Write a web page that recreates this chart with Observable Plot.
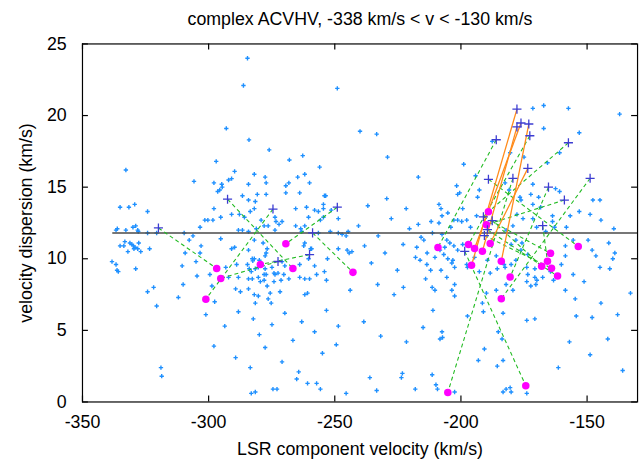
<!DOCTYPE html>
<html><head><meta charset="utf-8">
<script src="https://cdn.jsdelivr.net/npm/d3@7"></script>
<script src="https://cdn.jsdelivr.net/npm/@observablehq/plot@0.6"></script>
<style>html,body{margin:0;padding:0;background:#fff;overflow:hidden;width:642px;height:466px}</style>
</head><body><div id="chart"></div>
<script>
const titleText = "complex ACVHV, -338 km/s < v < -130 km/s";
const xLabel = "LSR component velocity (km/s)";
const yLabel = "velocity dispersion (km/s)";
const xTicks = [-350, -300, -250, -200, -150];
const yTicks = [0, 5, 10, 15, 20, 25];
const vRange = [-338, -130];
const meanDispersion = 11.8;

const westBlue = [
[-332.8,16.2],[-305.8,15.4],[-335.1,13.6],[-331.6,13.6],[-329.3,13.8],[-324.2,13.3],
[-336.7,12.0],[-336.2,12.1],[-332.8,12.0],[-330.0,12.2],[-328.9,12.3],[-328.1,12.0],[-327.9,11.9],
[-324.2,11.8],[-320.6,11.8],[-309.7,11.8],[-306.2,11.6],[-307.7,11.3],[-333.2,11.2],
[-335.1,10.9],[-333.6,10.9],[-331.2,11.1],[-330.4,11.0],[-329.8,10.9],[-329.2,10.8],[-327.7,11.1],
[-326.9,10.5],[-332.0,10.5],[-329.6,10.7],[-328.1,10.7],[-323.4,10.7],
[-338.3,9.8],[-336.7,9.6],[-336.3,9.2],[-335.8,9.1],[-328.9,9.3],[-310.5,9.5],[-309.3,10.4],
[-305.0,9.8],[-304.6,8.8],[-310.1,8.2],[-321.8,8.0],[-324.2,7.7],[-312.0,7.3],[-320.6,6.7],
[-318.9,2.4],[-318.6,1.8]
];
const centralBlue = [
[-289.7,16.1],[-281.9,15.9],[-277.6,15.7],[-297.9,15.3],[-294.8,15.2],[-294.6,15.0],[-292.1,15.5],[-290.9,15.6],[-284.2,15.2],[-277.2,15.3],
[-261.9,15.9],[-264.7,15.7],[-260.0,15.3],[-268.2,15.3],[-269.4,15.1],[-269.4,14.6],[-263.9,14.6],[-296.4,14.7],[-295.6,14.8],[-286.6,14.4],
[-280.7,14.5],[-277.2,14.5],[-254.1,14.4],[-253.6,14.4],[-284.2,14.1],[-281.5,14.0],[-297.9,13.5],[-290.9,13.1],[-287.8,13.1],[-283.5,13.3],
[-281.9,13.5],[-285.8,12.9],[-279.2,12.7],[-295.2,12.9],[-301.5,12.7],[-300.3,12.7],[-298.3,12.7],[-273.7,12.9],[-273.3,12.6],[-270.9,12.6],
[-272.1,12.4],[-278.0,12.3],[-276.4,12.3],[-303.4,12.2],[-288.2,12.0],[-286.6,12.0],[-284.2,11.9],[-281.1,12.1],[-273.7,12.0],[-265.5,13.5],
[-261.2,13.6],[-260.4,12.9],[-265.5,12.3],[-261.9,12.3],[-258.0,13.4],[-256.5,13.3],[-254.5,13.5],[-254.5,13.8],[-251.4,13.4],[-248.6,12.8],
[-263.1,11.9],[-263.5,12.1],[-256.5,11.8],[-251.8,11.9],[-248.6,11.8],[-247.1,11.7],[-245.5,11.6],[-244.7,11.9],[-255.7,12.7],[-254.5,12.9],
[-295.2,11.4],[-281.9,11.3],[-289.7,10.8],[-290.9,10.7],[-284.2,10.6],[-278.4,11.1],[-276.8,10.7],[-277.2,10.4],[-282.7,10.0],[-281.9,10.0],
[-282.5,9.85],[-279.9,9.9],[-277.6,10.2],[-303.0,10.9],[-303.4,10.4],
[-293.2,9.4],[-288.9,9.6],[-284.6,9.6],[-283.9,9.3],[-283.1,9.1],[-281.5,9.3],[-280.3,9.4],[-277.6,9.3],[-278.0,8.9],[-277.2,8.9],
[-274.9,9.4],[-274.1,9.0],[-273.7,8.9],[-272.5,9.0],[-270.9,9.8],[-269.8,9.5],[-263.9,9.6],[-262.3,10.9],[-261.9,11.1],[-259.6,10.7],
[-259.2,10.7],[-258.0,9.5],[-257.2,8.9],[-254.1,9.1],[-252.9,10.0],[-248.6,10.7],[-245.1,10.6],[-244.3,10.4],[-243.2,10.5],[-268.2,8.6],
[-284.2,8.6],[-282.7,8.6],[-279.5,8.4],[-278.0,8.5],[-276.8,8.1],[-275.6,7.6],[-280.3,8.7],[-292.1,8.7],[-288.2,8.7],[-299.5,8.9],
[-298.7,8.1],[-289.3,7.9],[-287.4,7.7],[-274.1,8.4],[-271.3,8.5],[-270.2,8.9],[-263.9,8.7],[-260.0,8.6],[-261.9,8.6],[-260.4,10.0],
[-253.3,8.5],[-243.9,7.8],[-261.9,7.5],[-260.8,7.6],[-281.9,7.5],[-280.3,7.4],[-276.4,7.2],[-284.2,7.9],[-281.5,6.9],[-275.2,6.9],
[-271.7,7.7],[-297.6,7.0]
];
const upperBlue = [
[-284.6,24.0],[-286.2,22.1],[-249.0,21.9],[-240.0,18.9],[-233.4,18.7],[-262.7,17.2],[-229.1,17.1],[-216.9,15.7],
[-293.0,19.1],[-284.0,18.3],[-276.0,17.6],[-297.0,16.8],[-268.0,16.9],[-256.0,16.4]
];
const lowBlue = [
[-301.1,6.1],[-293.6,5.3],[-288.2,6.3],[-282.3,5.8],[-279.9,4.7],[-274.9,5.4],[-269.8,6.2],[-266.6,4.3],[-263.1,5.6],[-258.0,4.9],
[-253.3,6.4],[-248.6,5.3],[-297.9,3.9],[-289.3,3.1],[-277.6,3.8],[-270.9,2.8],[-254.9,3.4],[-249.4,4.0],[-264.3,2.1],[-283.5,2.4],
[-283.1,0.6],[-281.5,0.7],[-274.5,0.9],[-272.9,0.9],[-265.1,1.6],[-260.8,1.3],[-257.2,1.3],[-255.7,0.9],[-245.5,0.6],[-236.1,1.7],
[-233.4,0.8],[-223.2,2.0],[-218.1,0.9],[-209.9,1.2],[-209.3,0.9],[-202.5,0.7],[-183.3,0.7],[-182.1,0.9],[-180.5,1.0],[-180.1,0.7],[-173.9,0.6]
];
const midBlue = [
[-240.6,12.3],[-238.2,10.9],[-235.5,9.7],[-232.8,11.6],[-230.1,10.4],[-227.6,12.8],[-225.2,9.2],[-222.9,11.0],[-220.4,12.1],[-218.0,10.1],
[-215.8,11.5],[-213.5,9.6],[-211.8,12.6],[-236.9,13.7],[-229.4,14.2],[-221.7,13.5],[-233.0,8.2],[-226.5,7.5],[-217.5,10.8],[-216.2,9.9],
[-214.7,11.3],[-213.4,10.4],[-212.0,9.2],[-211.3,11.8],[-216.9,12.4],[-214.0,8.6],[-238.5,5.6],[-231.8,4.6],
[-222.8,8.0],[-211.4,8.0],[-210.3,7.8],[-203.6,7.8],[-202.5,7.4],[-211.1,6.4],[-215.0,5.2],[-207.5,4.9],[-208.3,4.4],[-207.3,4.5],
[-221.6,4.2],[-223.6,1.7],[-211.4,1.9]
];
const eastBlue = [
[-171.5,20.5],[-167.2,20.7],[-157.4,20.5],[-137.1,20.1],[-187.6,18.2],[-153.1,18.8],[-167.2,19.1],[-180.5,17.4],[-175.0,17.1],[-160.9,17.4],
[-198.9,16.6],[-194.2,15.8],[-182.5,15.3],[-171.5,15.2],[-165.7,16.7],[-201.7,15.1],[-201.3,14.5],[-200.5,14.6],[-192.7,14.8],[-193.4,14.3],
[-207.9,13.5],[-208.7,13.8],[-180.9,14.8],[-176.6,14.3],[-176.2,14.1],[-172.3,14.5],[-169.2,14.3],[-162.5,14.9],[-160.9,14.7],[-171.5,13.8],
[-168.4,13.6],[-163.7,13.0],[-156.7,13.0],[-153.1,13.3],[-148.8,13.1],[-144.5,12.7],[-147.7,14.1],[-144.9,14.1],[-139.4,12.1],[-199.3,13.5],
[-205.2,13.2],[-202.8,12.7],[-201.3,12.7],[-197.7,12.7],[-199.7,12.6],[-193.8,13.0],[-196.2,12.2],[-204.0,12.2],[-207.5,13.0],[-208.7,12.5],
[-177.8,13.1],[-175.4,12.8],[-182.1,12.0],[-179.4,12.3],[-171.5,12.8],[-170.0,12.2],[-163.7,12.6],[-166.4,11.9],[-162.9,12.2],[-158.2,12.2],
[-158.6,10.9],[-155.5,11.3],[-149.6,11.3],[-148.0,10.6],[-141.4,11.1],[-144.9,9.4],[-139.0,10.4],[-207.5,11.7],[-205.6,11.3],[-204.4,11.1],
[-208.3,10.6],[-206.4,10.8],[-206.8,10.3],[-202.8,10.9],[-205.2,10.0],[-203.2,9.9],[-201.3,10.6],[-199.3,11.0],[-197.7,9.6],[-197.4,9.4],
[-207.9,9.2],[-202.5,8.2],[-194.6,10.1],[-192.7,9.1],[-189.5,9.9],[-186.0,10.2],[-185.6,9.3],[-182.5,9.4],[-178.2,9.9],[-176.2,10.6],
[-180.1,11.0],[-178.2,11.3],[-175.8,11.1],[-173.5,10.3],[-173.9,9.4],[-170.7,9.3],[-173.9,8.4],[-170.3,8.2],[-164.5,9.1],[-163.3,8.5],
[-155.5,8.9],[-160.2,9.6],[-158.6,10.2],
[-210.3,10.1],[-203.6,9.7],[-202.5,9.4],[-205.6,8.7],[-191.1,6.3],[-188.4,9.0],[-182.9,9.6],[-180.1,9.6],[-173.5,8.9],
[-158.6,7.8],[-154.7,7.2],[-151.2,8.4],[-154.3,6.0],[-148.0,5.9],[-146.5,10.2],[-141.0,9.3],[-139.8,10.0],
[-197.4,6.0],[-190.7,3.7],[-193.1,2.9],[-185.6,2.5],[-183.3,2.9],[-185.2,4.9],[-183.7,4.4],[-183.3,6.2],[-173.9,5.7],[-170.7,5.8],
[-179.4,7.8],[-186.0,7.8],[-189.9,7.6],[-191.5,6.9],[-170.7,8.7],[-169.9,8.5],[-167.6,8.7],[-172.3,8.1],[-182.1,8.2]
];
const edgeBlue = [
[-144.5,6.9],[-137.9,6.1],[-132.8,7.6],[-141.8,4.4],[-148.8,3.3],[-157.0,4.2],[-161.4,2.4],[-135.9,2.2]
];

const crossPts = [
[-319.9,12.15],[-292.5,14.16],[-274.5,13.47],[-272.5,9.81],[-249.0,13.60],[-258.8,11.81],[-260.0,10.29],
[-177.8,20.45],[-176.2,19.48],[-177.8,19.21],[-173.1,19.41],[-172.7,18.59],[-186.0,18.31],[-157.4,18.10],
[-173.5,16.31],[-189.1,15.55],[-179.4,15.62],[-148.8,15.62],[-165.3,15.00],[-159.0,14.10],[-191.1,12.93],
[-187.6,12.66],[-167.6,12.31],[-198.5,10.52],[-189.5,12.03],[-190.7,11.62]
];
const magentaPts = [
[-296.8,9.32],[-266.6,9.32],[-301.1,7.18],[-295.2,8.63],[-279.5,9.60],[-269.4,11.05],[-242.8,9.05],
[-209.1,10.79],[-197.0,11.00],[-194.6,10.72],[-191.5,10.52],[-188.4,11.07],[-195.8,9.55],[-184.0,9.83],
[-164.5,10.38],[-165.7,9.83],[-168.0,9.48],[-164.1,9.34],[-161.7,8.79],[-153.5,10.86],[-180.5,8.72],
[-184.0,7.21],[-205.2,0.66],[-174.3,1.14],[-189.1,13.28],[-189.9,12.38]
];
// [cross index, magenta index]
const greenLinks = [
[0,0],[1,1],[2,2],[3,3],[6,4],[4,5],[5,6],
[12,7],[13,24],[17,21],[11,8],[15,19],[18,20],[19,25],[16,22],[23,23],[20,14],[21,16],[24,18],[25,17],[22,15]
];
const orangeLinks = [[7,12],[8,9],[9,10],[10,13],[14,11]];

const blueAll = [...westBlue, ...centralBlue, ...upperBlue, ...lowBlue, ...midBlue, ...eastBlue, ...edgeBlue];

const plusSymbol = {
  draw(ctx, size) {
    const r = Math.sqrt(size / Math.PI);
    ctx.moveTo(-r, 0); ctx.lineTo(r, 0);
    ctx.moveTo(0, -r); ctx.lineTo(0, r);
  }
};

const W = 650, H = 466, mL = 83, mR = 5, mT = 44, mB = 59.5;
const plotW = W - mL - mR, plotH = H - mT - mB;
const font = "'Liberation Sans', Arial, Helvetica, sans-serif";

const linkOpts = () => ({
  x1: ([c]) => crossPts[c][0], y1: ([c]) => crossPts[c][1],
  x2: ([, m]) => magentaPts[m][0], y2: ([, m]) => magentaPts[m][1]
});

const chart = Plot.plot({
  width: W, height: H,
  marginLeft: mL, marginRight: mR, marginTop: mT, marginBottom: mB,
  x: {domain: [-350, -130]},
  y: {domain: [0, 25]},
  style: {fontFamily: font, fontSize: "18px", background: "white", color: "black", overflow: "visible"},
  marks: [
    Plot.dot(blueAll, {x: d => d[0], y: d => d[1], symbol: plusSymbol, r: 2.2, stroke: "#1e90ff", strokeWidth: 1.4, fill: "none"}),
    Plot.ruleY([{s: meanDispersion, v1: vRange[0], v2: vRange[1]}], {y: "s", x1: "v1", x2: "v2", stroke: "#4a4a4a", strokeWidth: 1.5}),
    Plot.link(greenLinks, {...linkOpts(), stroke: "#22bb22", strokeWidth: 1.1, strokeDasharray: "4,3"}),
    Plot.link(orangeLinks, {...linkOpts(), stroke: "#ff8a1a", strokeWidth: 1.3}),
    Plot.dot(magentaPts, {x: d => d[0], y: d => d[1], r: 3.8, fill: "#ff00ff"}),
    Plot.dot(crossPts, {x: d => d[0], y: d => d[1], symbol: plusSymbol, r: 4.6, stroke: "#3c3cd2", strokeWidth: 1.3, fill: "none"}),
    Plot.frame({stroke: "black", strokeWidth: 1.2}),
    Plot.ruleX(xTicks, {x: d => d, insetTop: plotH - 6, stroke: "black", strokeWidth: 1.2}),
    Plot.ruleX(xTicks, {x: d => d, insetBottom: plotH - 6, stroke: "black", strokeWidth: 1.2}),
    Plot.ruleY(yTicks, {y: d => d, insetRight: plotW - 6, stroke: "black", strokeWidth: 1.2}),
    Plot.ruleY(yTicks, {y: d => d, insetLeft: plotW - 6, stroke: "black", strokeWidth: 1.2}),
    Plot.axisX({ticks: xTicks, tickFormat: d => String(d), tickSize: 0, tickPadding: 14, label: null, fontSize: 18}),
    Plot.axisY({ticks: yTicks, tickFormat: d => String(d), tickSize: 0, tickPadding: 16, label: null, fontSize: 18}),
    Plot.text([titleText], {text: d => d, frameAnchor: "top", dy: -19, lineAnchor: "bottom", textAnchor: "middle", fontSize: 18}),
    Plot.text([xLabel], {text: d => d, frameAnchor: "bottom", dy: 54, lineAnchor: "bottom", textAnchor: "middle", fontSize: 18}),
    Plot.text([yLabel], {text: d => d, frameAnchor: "left", dx: -51, rotate: -90, lineAnchor: "bottom", textAnchor: "middle", fontSize: 18})
  ]
});
document.getElementById("chart").appendChild(chart);
</script>
</body></html>
